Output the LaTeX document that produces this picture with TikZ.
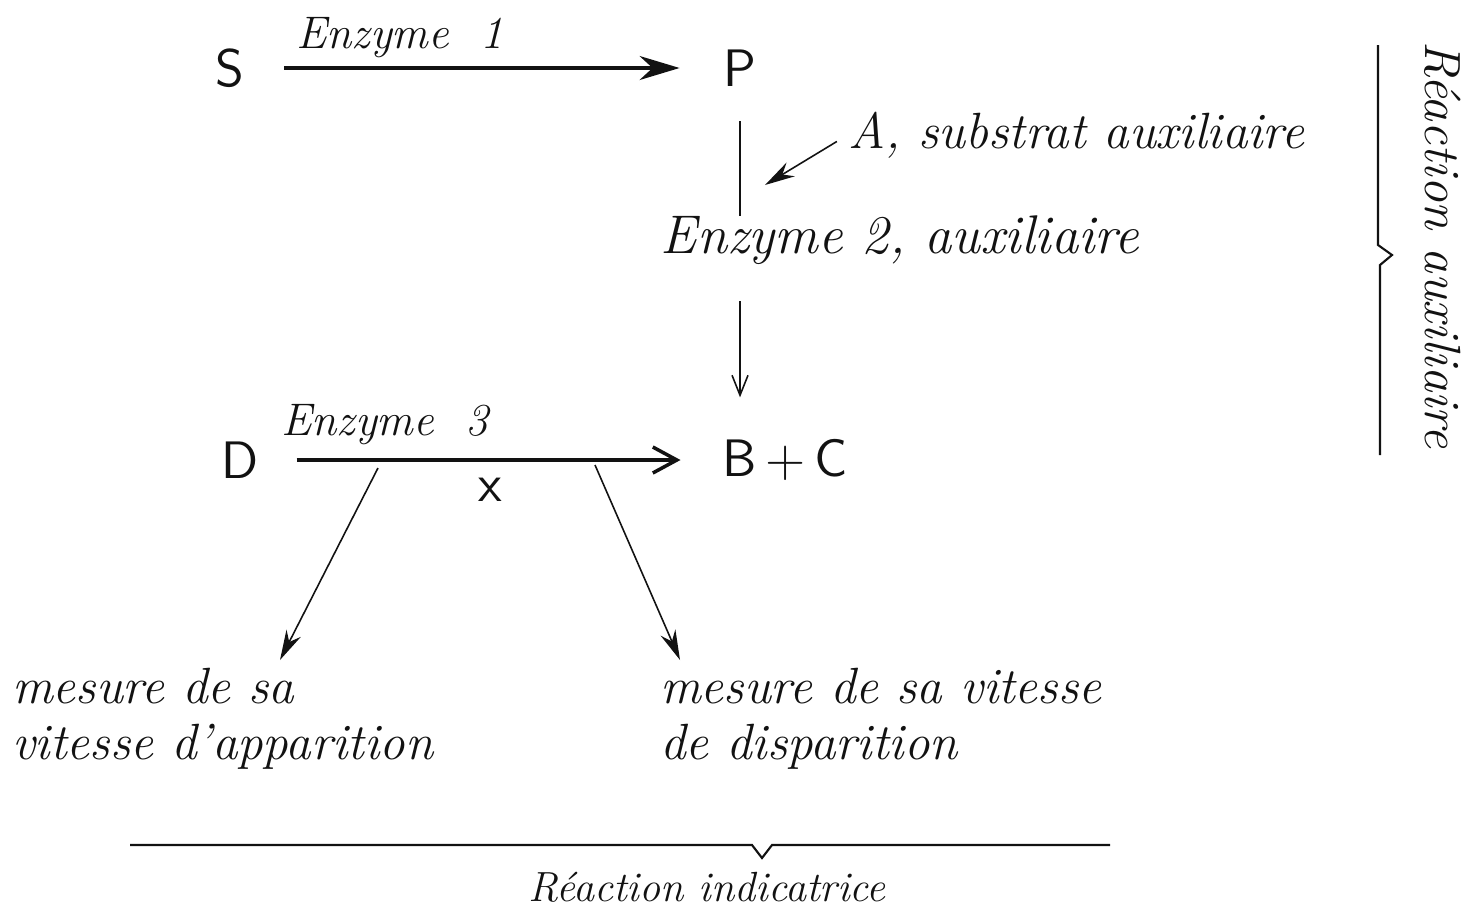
\documentclass[tikz,border=0pt]{standalone}
\usetikzlibrary{arrows.meta}
\definecolor{handInk}{RGB}{18,18,18}
\begin{document}
\begin{tikzpicture}[x=0.1mm,y=0.1mm,inner sep=0pt,outer sep=0pt,
  species/.style={text=handInk,font=\sffamily\fontsize{15}{18}\selectfont},
  script/.style={text=handInk,font=\itshape\fontsize{14.5}{16}\selectfont},
  enzlabel/.style={text=handInk,font=\itshape\fontsize{13}{15}\selectfont},
  mainrxn/.style={draw=handInk,line width=0.9pt,-{Stealth[length=4mm,width=2.4mm]}},
  sidestep/.style={draw=handInk,line width=0.9pt,-{Straight Barb[length=2.4mm,width=2.6mm,line width=1pt]}},
  thinpath/.style={draw=handInk,line width=0.45pt},
  thinarrow/.style={draw=handInk,line width=0.45pt,-{Stealth[length=3mm,width=1.6mm]}},
  downstep/.style={draw=handInk,line width=0.45pt,-{Straight Barb[length=2mm,width=1.6mm]}},
  bracket/.style={draw=handInk,line width=0.6pt}]
\useasboundingbox (0,0) rectangle (1480,913);
\node[species] (S) at (230,845) {S};
\node[species] (P) at (740,845) {P};
\node[enzlabel] (enz1) at (400,875) {Enzyme\ \ 1};
\node[script,anchor=base west] (Asub) at (848,765) {A, substrat auxiliaire};
\coordinate (Ain) at (765,728);
\node[script,font=\itshape\fontsize{15.5}{17}\selectfont] (enz2) at (900,673) {Enzyme 2, auxiliaire};
\node[species] (D) at (240,453) {D};
\node[species] (BC) at (785,453) {B\,+\,C};
\node[enzlabel] (enz3) at (385,488) {Enzyme\ \ 3};
\node[species] (xmark) at (490,423) {x};
\node[script,anchor=north west,align=left] (meslft) at (12,245) {mesure de sa\\vitesse d'apparition};
\node[script,anchor=north west,align=left] (mesrgt) at (660,245) {mesure de sa vitesse\\de disparition};
\coordinate (tapL) at (378,445);
\coordinate (tapR) at (595,448);
\coordinate (endL) at (280,253);
\coordinate (endR) at (680,253);
\node[script] (rauxl) at (1443,668) [rotate=-90] {Réaction auxiliaire};
\node[enzlabel,font=\itshape\fontsize{12}{14}\selectfont] (rindic) at (707,26) {Réaction indicatrice};

\draw[mainrxn,shorten <=4mm,shorten >=4.4mm] (S) -- (P);
\draw[thinpath,shorten <=3.5mm] (P.south) -- (P.south |- enz2.north);
\draw[downstep,shorten <=3.7mm,shorten >=4.2mm] (P.south |- enz2.south) -- (P.south |- BC.north);
\draw[thinarrow,shorten <=1.3mm] (Asub.west) -- (Ain);
\draw[sidestep,shorten <=3.8mm,shorten >=4.2mm] (D) -- (BC);
\draw[thinarrow] (tapL) -- (endL);
\draw[thinarrow] (tapR) -- (endR);
\draw[bracket] (1378,868) -- (1378,668) -- (1392,658) -- (1380,648) -- (1380,458);
\draw[bracket] (130,68) -- (752,68) -- (762,55) -- (772,68) -- (1110,68);
\end{tikzpicture}
\end{document}
